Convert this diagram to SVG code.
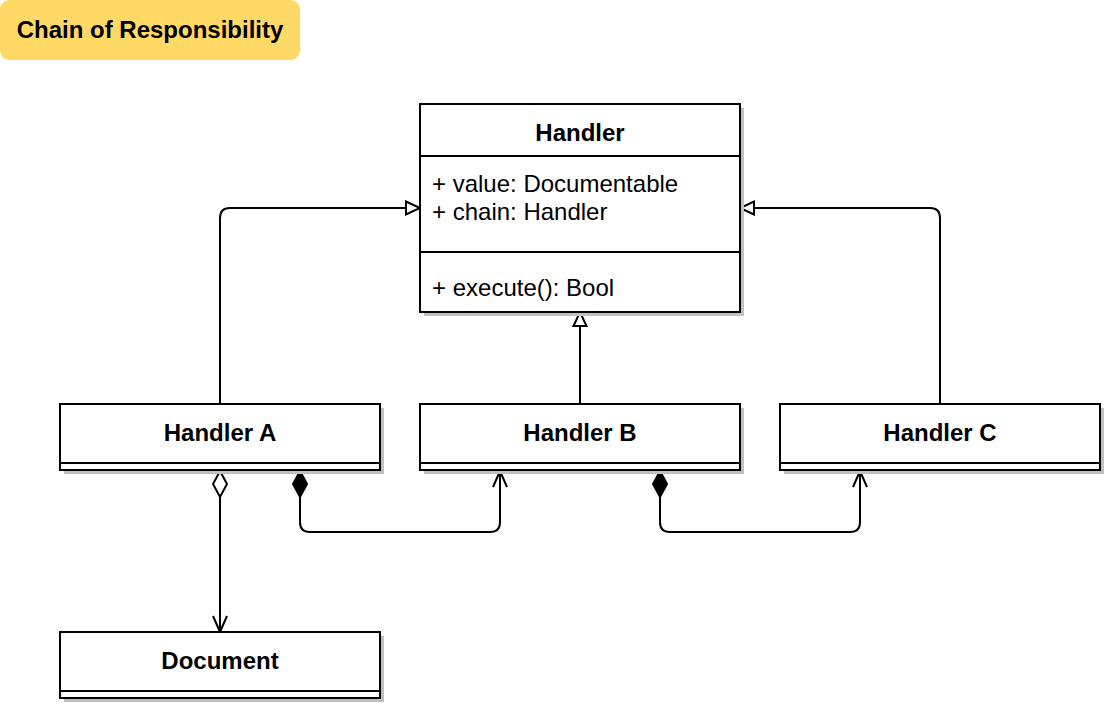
<svg xmlns="http://www.w3.org/2000/svg" width="1105" height="708" viewBox="0 0 1105 708">
<style>
.box{fill:#fff;stroke:#000;stroke-width:2}
.shadow{fill:#c0c0c0;stroke:none}
.sep{stroke:#000;stroke-width:2;fill:none}
.t{font-family:"Liberation Sans",Arial,sans-serif;font-size:24px;fill:#000}
.b{font-weight:bold;text-anchor:middle}
.edge{fill:none;stroke:#000;stroke-width:2}
</style>
<defs>
<marker id="tri" markerUnits="userSpaceOnUse" markerWidth="20" markerHeight="18" refX="16" refY="9" orient="auto" overflow="visible">
<path d="M2,2.5 L16,9 L2,15.5 Z" fill="#fff" stroke="#000" stroke-width="2"/>
</marker>
<marker id="open" markerUnits="userSpaceOnUse" markerWidth="20" markerHeight="18" refX="17" refY="9" orient="auto" overflow="visible">
<path d="M1,2 L17,9 L1,16" fill="none" stroke="#000" stroke-width="2"/>
</marker>
<marker id="dia" markerUnits="userSpaceOnUse" markerWidth="32" markerHeight="18" refX="1" refY="9" orient="auto" overflow="visible">
<path d="M1,9 L14,2 L27,9 L14,16 Z" fill="#fff" stroke="#000" stroke-width="2"/>
</marker>
<marker id="fdia" markerUnits="userSpaceOnUse" markerWidth="32" markerHeight="18" refX="1" refY="9" orient="auto" overflow="visible">
<path d="M1,9 L14,2 L27,9 L14,16 Z" fill="#000" stroke="#000" stroke-width="2"/>
</marker>
</defs>

<g id="title">
<rect x="0" y="0" width="300" height="60" rx="9" fill="#ffd966"/>
<text class="t b" x="150" y="38">Chain of Responsibility</text>
</g>

<g id="connectors">
<path class="edge" d="M220,404 L220,218 Q220,208 230,208 L420,208" marker-end="url(#tri)"/>
<path class="edge" d="M940,404 L940,218 Q940,208 930,208 L740,208" marker-end="url(#tri)"/>
<path class="edge" d="M580,404 L580,312" marker-end="url(#tri)"/>
<path class="edge" d="M220,471 L220,632" marker-start="url(#dia)" marker-end="url(#open)"/>
<path class="edge" d="M300,471 L300,522 Q300,532 310,532 L490,532 Q500,532 500,522 L500,471" marker-start="url(#fdia)" marker-end="url(#open)"/>
<path class="edge" d="M660,471 L660,522 Q660,532 670,532 L850,532 Q860,532 860,522 L860,471" marker-start="url(#fdia)" marker-end="url(#open)"/>
</g>

<g id="handler">
<rect class="shadow" x="424" y="108" width="320" height="208"/>
<rect class="box" x="420" y="104" width="320" height="208"/>
<line class="sep" x1="420" y1="156" x2="740" y2="156"/>
<line class="sep" x1="420" y1="252" x2="740" y2="252"/>
<text class="t b" x="580" y="141">Handler</text>
<text class="t" x="432" y="192">+ value: Documentable</text>
<text class="t" x="432" y="220">+ chain: Handler</text>
<text class="t" x="432" y="296">+ execute(): Bool</text>
</g>

<g id="handlerA">
<rect class="shadow" x="64" y="408" width="320" height="66"/>
<rect class="box" x="60" y="404" width="320" height="66"/>
<line class="sep" x1="60" y1="463" x2="380" y2="463"/>
<text class="t b" x="220" y="441">Handler A</text>
</g>

<g id="handlerB">
<rect class="shadow" x="424" y="408" width="320" height="66"/>
<rect class="box" x="420" y="404" width="320" height="66"/>
<line class="sep" x1="420" y1="463" x2="740" y2="463"/>
<text class="t b" x="580" y="441">Handler B</text>
</g>

<g id="handlerC">
<rect class="shadow" x="784" y="408" width="320" height="66"/>
<rect class="box" x="780" y="404" width="320" height="66"/>
<line class="sep" x1="780" y1="463" x2="1100" y2="463"/>
<text class="t b" x="940" y="441">Handler C</text>
</g>

<g id="document">
<rect class="shadow" x="64" y="636" width="320" height="66"/>
<rect class="box" x="60" y="632" width="320" height="66"/>
<line class="sep" x1="60" y1="691" x2="380" y2="691"/>
<text class="t b" x="220" y="669">Document</text>
</g>
</svg>
